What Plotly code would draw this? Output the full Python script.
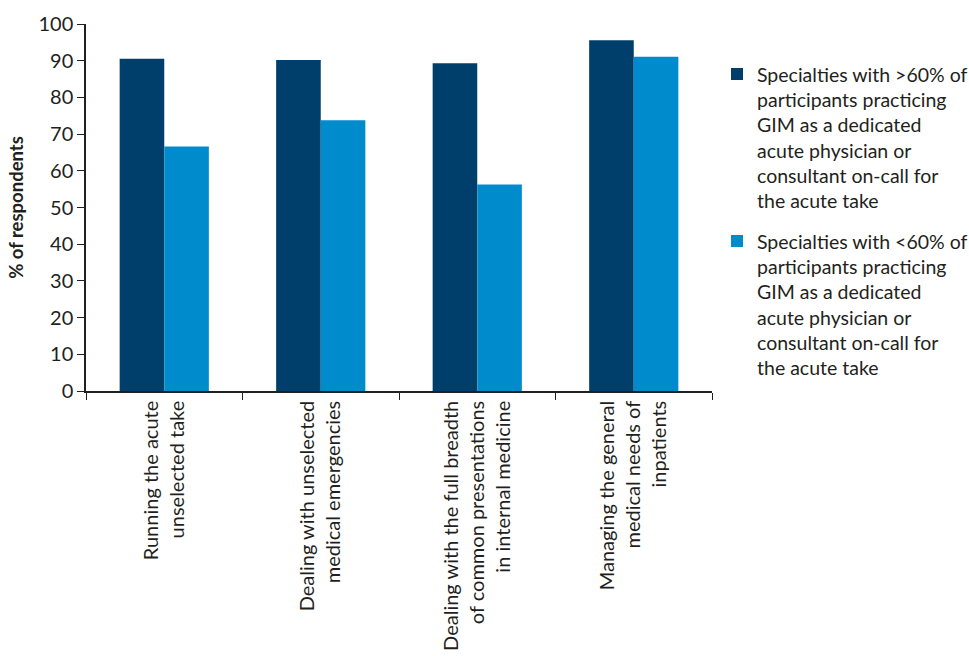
import plotly.graph_objects as go

categories = [
    "Running the acute<br>unselected take",
    "Dealing with unselected<br>medical emergencies",
    "Dealing with the full breadth<br>of common presentations<br>in internal medicine",
    "Managing the general<br>medical needs of<br>inpatients",
]
series_high_name = "Specialties with >60% of<br>participants practicing<br>GIM as a dedicated<br>acute physician or<br>consultant on-call for<br>the acute take"
series_low_name = "Specialties with <60% of<br>participants practicing<br>GIM as a dedicated<br>acute physician or<br>consultant on-call for<br>the acute take"
series_high = [90.5, 90.2, 89.3, 95.6]
series_low = [66.6, 73.8, 56.3, 91.1]
y_ticks = list(range(0, 101, 10))

FONT = "Lato, 'Open Sans', sans-serif"
TXT = "#231f20"

fig = go.Figure()
fig.add_trace(go.Bar(x=categories, y=series_high, name=series_high_name, legendgroup="a",
                     marker=dict(color="#003f6b", line=dict(width=0))))
fig.add_trace(go.Bar(x=categories, y=series_low, name=series_low_name, legendgroup="b",
                     marker=dict(color="#008bcd", line=dict(width=0))))

fig.update_layout(
    width=969, height=656,
    margin=dict(l=86, r=257, t=24, b=265, autoexpand=False),
    paper_bgcolor="white", plot_bgcolor="white",
    barmode="group", bargap=0.43, bargroupgap=0,
    font=dict(family=FONT, size=19, color=TXT),
    showlegend=True,
    legend=dict(x=1.008, y=0.916, xanchor="left", yanchor="top", valign="top",
                font=dict(size=19.5, color=TXT), tracegroupgap=12,
                itemsizing="constant", bgcolor="rgba(0,0,0,0)"),
    xaxis=dict(showline=True, linecolor="#231f20", linewidth=1.5,
               ticks="outside", tickson="boundaries", ticklen=7,
               tickcolor="#231f20", tickangle=-90, automargin=False,
               tickfont=dict(size=20, color=TXT), showgrid=False),
    yaxis=dict(range=[0, 100], tickvals=y_ticks, showline=True,
               linecolor="#231f20", linewidth=1.5, ticks="outside",
               ticklen=7, tickcolor="#231f20", showgrid=False, zeroline=False,
               tickfont=dict(size=20, color=TXT), automargin=False,
               title=dict(text="<b>% of respondents</b>", font=dict(size=18.5, color=TXT),
                          standoff=10)),
)

fig.write_html("out.html")
